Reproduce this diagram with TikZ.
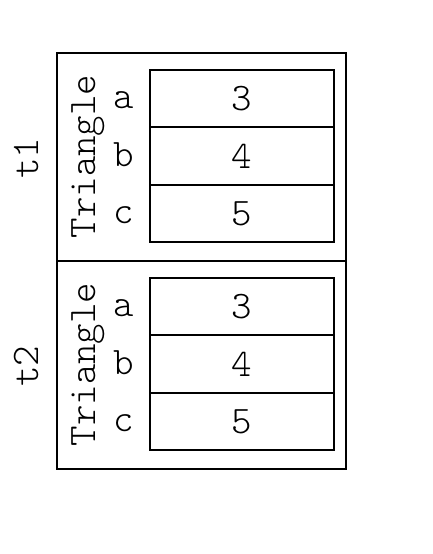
\documentclass[tikz,border=0pt]{standalone}
\begin{document}
\begin{tikzpicture}[x=1pt,y=-1pt,
  txt/.style={font=\ttfamily\fontseries{l}\fontsize{39}{46}\selectfont, inner sep=0pt},
  frame/.style={draw, line width=1.4pt, inner sep=0pt, minimum width=289pt, minimum height=208pt},
  cell/.style={txt, draw, line width=1.6pt, minimum width=184pt, minimum height=57.5pt},
  lbl/.style={txt, anchor=base}]
\useasboundingbox (0,0) rectangle (432,554);
% frames
\node[frame] (box1) at (201.5,157) {};
\node[frame] (box2) at (201.5,365) {};
% cells of t1
\node[cell] (c1a) at (242,98.5) {3};
\node[cell] (c1b) at (242,156) {4};
\node[cell] (c1c) at (242,213.5) {5};
% cells of t2
\node[cell] (c2a) at (242,306.5) {3};
\node[cell] (c2b) at (242,364) {4};
\node[cell] (c2c) at (242,421.5) {5};
% field labels
\node[lbl] (l1a) at (124,108.5) {a};
\node[lbl] (l1b) at (124,166) {b};
\node[lbl] (l1c) at (124,223.5) {c};
\node[lbl] (l2a) at (124,316.5) {a};
\node[lbl] (l2b) at (124,374) {b};
\node[lbl] (l2c) at (124,431.5) {c};
% type names
\node[lbl, rotate=90] (tri1) at (95,156.5) {Triangle};
\node[lbl, rotate=90] (tri2) at (95,364.5) {Triangle};
% object names
\node[lbl, rotate=90] (t1) at (38,158) {t1};
\node[lbl, rotate=90] (t2) at (38,366) {t2};
\end{tikzpicture}
\end{document}
